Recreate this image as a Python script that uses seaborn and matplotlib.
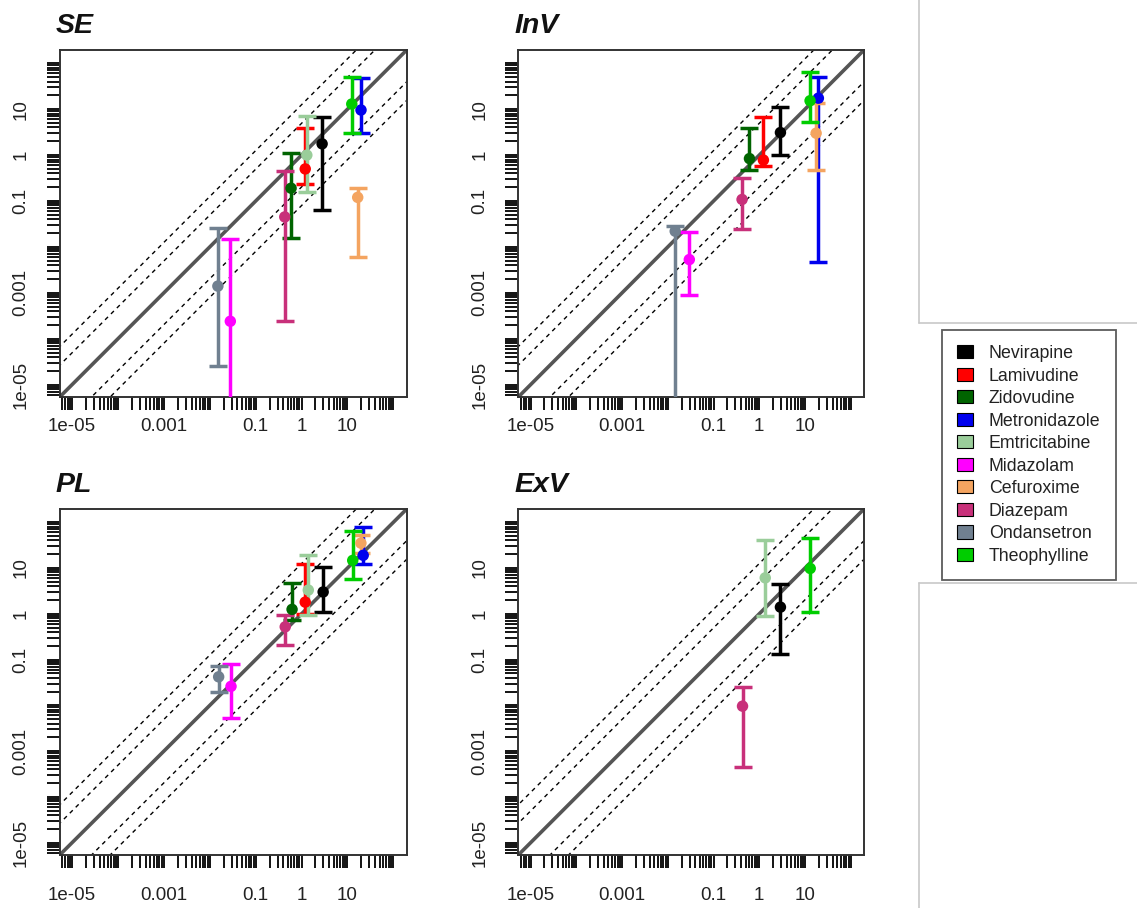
import numpy as np
import pandas as pd
import matplotlib
matplotlib.use("Agg")
import matplotlib.pyplot as plt
from matplotlib.patches import Patch
from matplotlib.lines import Line2D
import seaborn as sns

sns.set_style("white")
plt.rcParams["font.family"] = ["Liberation Sans", "DejaVu Sans"]

# ---- data ----
drugs = ["Nevirapine", "Lamivudine", "Zidovudine", "Metronidazole", "Emtricitabine",
         "Midazolam", "Cefuroxime", "Diazepam", "Ondansetron", "Theophylline"]
drug_colors = ["#000000", "#FF0000", "#006400", "#0000EE", "#9ACD9A",
               "#FF00FF", "#F4A460", "#C8307A", "#708090", "#00CD00"]

# observed (x), predicted (y), lower / upper bound of the predicted value
se_drug = ["Nevirapine", "Lamivudine", "Zidovudine", "Metronidazole", "Emtricitabine",
           "Midazolam", "Cefuroxime", "Diazepam", "Ondansetron", "Theophylline"]
se_obs = [2.8, 1.2, 0.59, 19.7, 1.3, 0.028, 16.7, 0.43, 0.015, 12.4]
se_pred = [1.76, 0.50, 0.19, 9.6, 1.0, 2.4e-4, 0.12, 0.045, 0.0014, 13]
se_lo = [0.063, 0.24, 0.016, 3.0, 0.155, 1e-6, 0.006, 2.4e-4, 2.5e-5, 3.0]
se_hi = [6.9, 3.8, 1.1, 48, 7.2, 0.015, 0.19, 0.45, 0.026, 51]

inv_drug = ["Nevirapine", "Lamivudine", "Zidovudine", "Metronidazole",
            "Midazolam", "Cefuroxime", "Diazepam", "Ondansetron", "Theophylline"]
inv_obs = [2.9, 1.23, 0.61, 19.6, 0.0295, 17.5, 0.42, 0.0145, 12.9]
inv_pred = [3.1, 0.78, 0.84, 17.4, 0.0053, 3.0, 0.108, 0.022, 15.3]
inv_lo = [1.0, 0.57, 0.47, 0.0048, 9e-4, 0.47, 0.024, 1e-6, 5.2]
inv_hi = [11.3, 6.9, 3.9, 50, 0.021, 14, 0.31, 0.028, 66]

pl_drug = ["Nevirapine", "Lamivudine", "Zidovudine", "Metronidazole", "Emtricitabine",
           "Midazolam", "Cefuroxime", "Diazepam", "Ondansetron", "Theophylline"]
pl_obs = [2.95, 1.2, 0.62, 22, 1.4, 0.029, 19.6, 0.44, 0.0156, 13]
pl_pred = [3.0, 1.8, 1.25, 19, 3.3, 0.026, 35, 0.52, 0.042, 14.7]
pl_lo = [1.1, 1.0, 0.72, 12, 0.93, 0.0052, 21, 0.21, 0.020, 5.9]
pl_hi = [10.6, 12, 4.7, 80, 19, 0.082, 53, 0.93, 0.073, 64]

exv_drug = ["Nevirapine", "Emtricitabine", "Diazepam", "Theophylline"]
exv_obs = [2.9, 1.35, 0.43, 13]
exv_pred = [1.4, 6.1, 0.0096, 9.8]
exv_lo = [0.135, 0.9, 4.6e-4, 1.07]
exv_hi = [4.5, 41, 0.025, 46]

fold_lines = [2, 3]
tick_labels = {1e-5: "1e-05", 1e-3: "0.001", 1e-1: "0.1", 1.0: "1", 10.0: "10"}

panels = [
    ("SE", se_drug, se_obs, se_pred, se_lo, se_hi),
    ("InV", inv_drug, inv_obs, inv_pred, inv_lo, inv_hi),
    ("PL", pl_drug, pl_obs, pl_pred, pl_lo, pl_hi),
    ("ExV", exv_drug, exv_obs, exv_pred, exv_lo, exv_hi),
]

palette = dict(zip(drugs, drug_colors))
W, H = 1137, 908
fig = plt.figure(figsize=(W / 100, H / 100), dpi=100)
fig.patch.set_facecolor("white")

# axes boxes in pixels: left, top, right, bottom
boxes = [(59.7, 50, 406.7, 397), (518.3, 50, 864, 397),
         (59.7, 509, 406.7, 855), (518.3, 509, 864, 855)]
x_pads = [5.5, 5.5, 13.5, 13.5]
lim = (10 ** -5.27, 10 ** 2.29)
line_x = np.logspace(-8, 4, 50)
major = [10.0 ** k for k in range(-6, 4)]
minor = [m * 10.0 ** k for k in range(-6, 3) for m in range(2, 10)]

for (name, d, xo, yp, lo, hi), (l, t, r, b), xpad in zip(panels, boxes, x_pads):
    ax = fig.add_axes([l / W, 1 - b / H, (r - l) / W, (b - t) / H])
    ax.set_xscale("log")
    ax.set_yscale("log")

    # identity and fold lines
    ax.plot(line_x, line_x, color="#555555", lw=2.6, zorder=1)
    for f in fold_lines:
        k = 10 ** np.log(f)
        for kk in (k, 1 / k):
            ax.plot(line_x, line_x * kk, color="black", lw=1.0,
                    dashes=(3, 3), zorder=1)

    df = pd.DataFrame({"drug": d, "obs": xo, "pred": yp, "lo": lo, "hi": hi})
    df["order"] = df["drug"].map(drugs.index)
    df = df.sort_values("order")
    for _, row in df.iterrows():
        ax.errorbar(row["obs"], row["pred"],
                    yerr=[[row["pred"] - row["lo"]], [row["hi"] - row["pred"]]],
                    fmt="none", ecolor=palette[row["drug"]], elinewidth=2.5,
                    capsize=6.8, capthick=2.5, zorder=3)
    sns.scatterplot(data=df, x="obs", y="pred", hue="drug", palette=palette,
                    s=68, linewidth=0, legend=False, ax=ax, zorder=4)

    for axis in (ax.xaxis, ax.yaxis):
        axis.set_ticks(major)
        axis.set_ticklabels([tick_labels.get(v, "") for v in major])
        axis.set_ticks(minor, minor=True)
    ax.set_xlim(lim)
    ax.set_ylim(lim)
    ax.set_xlabel("")
    ax.set_ylabel("")
    ax.tick_params(which="both", direction="out", length=9.6, width=1.3,
                   color="black", bottom=True, left=True, labelsize=13.5,
                   labelcolor="#222222")
    ax.tick_params(axis="x", which="major", pad=xpad)
    ax.tick_params(axis="y", which="major", pad=12, labelrotation=90)
    for lab in ax.get_yticklabels():
        lab.set_va("center")
    for sp in ax.spines.values():
        sp.set_color("#333333")
        sp.set_linewidth(1.4)

    fig.text((l - 4) / W, 1 - (t - 17) / H, name, fontsize=20.5, fontweight="bold",
             fontstyle="italic", ha="left", va="baseline", color="#111111")

# panel borders on the right
gray = "#c8c8c8"
xg = 919.3 / W
fig.add_artist(Line2D([xg, xg], [1, 1 - 322.7 / H], transform=fig.transFigure, color=gray, lw=1.2))
fig.add_artist(Line2D([xg, 1], [1 - 322.7 / H] * 2, transform=fig.transFigure, color=gray, lw=1.2))
fig.add_artist(Line2D([xg, 1], [1 - 582.7 / H] * 2, transform=fig.transFigure, color=gray, lw=1.2))
fig.add_artist(Line2D([xg, xg], [1 - 582.7 / H, 0], transform=fig.transFigure, color=gray, lw=1.2))

handles = [Patch(facecolor=c, edgecolor="black", linewidth=0.8) for c in drug_colors]
leg = fig.legend(handles, drugs, loc="upper left",
                 bbox_to_anchor=(941.7 / W, 1 - 330 / H), fontsize=12.8,
                 frameon=True, fancybox=False, handlelength=0.9, handleheight=0.75,
                 labelspacing=0.31, borderpad=0.85, handletextpad=0.9,
                 borderaxespad=0)
leg.get_frame().set_edgecolor("#333333")
leg.get_frame().set_linewidth(1.3)
for txt in leg.get_texts():
    txt.set_color("#222222")

fig.savefig("out.png", dpi=100, facecolor="white")
